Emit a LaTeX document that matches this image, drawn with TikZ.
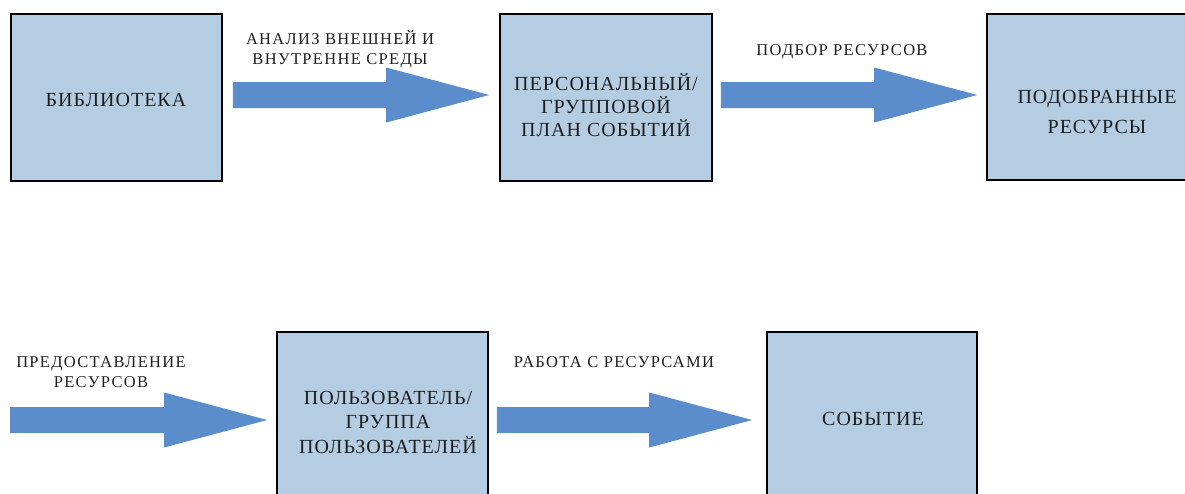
\documentclass[tikz,border=0pt]{standalone}
\usepackage{fontspec}
\setmainfont{Liberation Serif}
\newfontfamily\boxfont[LetterSpace=5]{Liberation Serif}
\newfontfamily\labfont[LetterSpace=8]{Liberation Serif}
\usetikzlibrary{calc}
\definecolor{boxfill}{RGB}{180,205,227}
\definecolor{arrowblue}{RGB}{91,140,204}
\definecolor{txt}{RGB}{30,30,30}
\tikzset{
  procbox/.style={draw=black, line width=1.6pt, fill=boxfill, rectangle, inner sep=0pt},
  boxtext/.style={text=txt, font=\boxfont\fontsize{20}{23}\selectfont, align=center, inner sep=0pt},
  labtext/.style={text=txt, font=\labfont\fontsize{16.5}{20}\selectfont, align=center, inner sep=0pt},
  blockarrow/.style={fill=arrowblue}
}
\newcommand\barrow[2]{%
  \fill[blockarrow] ($(#1)+(0,-13)$) -- ($(#2)+(-103,-13)$) -- ($(#2)+(-103,-27.5)$)
    -- (#2) -- ($(#2)+(-103,27.5)$) -- ($(#2)+(-103,13)$) -- ($(#1)+(0,13)$) -- cycle;}
\begin{document}
\begin{tikzpicture}[x=1pt,y=-1pt]
\useasboundingbox (0,0) rectangle (1185,493);
\clip (0,0) rectangle (1185,493);
% boxes
\node[procbox, minimum width=211pt, minimum height=167pt] (b1) at (116.5,97.5) {};
\node[procbox, minimum width=212pt, minimum height=167pt] (b2) at (606,97.5) {};
\node[procbox, minimum width=212pt, minimum height=166pt] (b3) at (1093,97) {};
\node[procbox, minimum width=211pt, minimum height=180pt] (b4) at (382.5,422) {};
\node[procbox, minimum width=210pt, minimum height=180pt] (b5) at (872,422) {};
% box texts
\node[boxtext] (t1) at (116,100) {БИБЛИОТЕКА};
\node[boxtext] (t2) at (606,105) {ПЕРСОНАЛЬНЫЙ/\\ГРУППОВОЙ\\ПЛАН СОБЫТИЙ};
\node[boxtext, font=\boxfont\fontsize{20}{30}\selectfont] (t3) at (1097,112) {ПОДОБРАННЫЕ\\РЕСУРСЫ};
\node[boxtext, font=\boxfont\fontsize{20}{24.5}\selectfont] (t4) at (388,422) {ПОЛЬЗОВАТЕЛЬ/\\ГРУППА\\ПОЛЬЗОВАТЕЛЕЙ};
\node[boxtext] (t5) at (873,419) {СОБЫТИЕ};
% arrows
\coordinate (a1s) at ($(b1.east)+(10,-2.5)$);
\coordinate (a1e) at ($(b2.west)+(-10,-2.5)$);
\coordinate (a2s) at ($(b2.east)+(8,-2.5)$);
\coordinate (a2e) at ($(b3.west)+(-9,-2)$);
\coordinate (a3s) at (10,420);
\coordinate (a3e) at ($(b4.west)+(-9,-2)$);
\coordinate (a4s) at ($(b4.east)+(8,-2)$);
\coordinate (a4e) at ($(b5.west)+(-14,-2)$);
\barrow{a1s}{a1e}
\barrow{a2s}{a2e}
\barrow{a3s}{a3e}
\barrow{a4s}{a4e}
% arrow labels
\node[labtext] (l1) at (340,49) {АНАЛИЗ ВНЕШНЕЙ И\\ВНУТРЕННЕ СРЕДЫ};
\node[labtext] (l2) at (842,52) {ПОДБОР РЕСУРСОВ};
\node[labtext] (l3) at (101,372.5) {ПРЕДОСТАВЛЕНИЕ\\РЕСУРСОВ};
\node[labtext] (l4) at (614,362) {РАБОТА С РЕСУРСАМИ};
\end{tikzpicture}
\end{document}
